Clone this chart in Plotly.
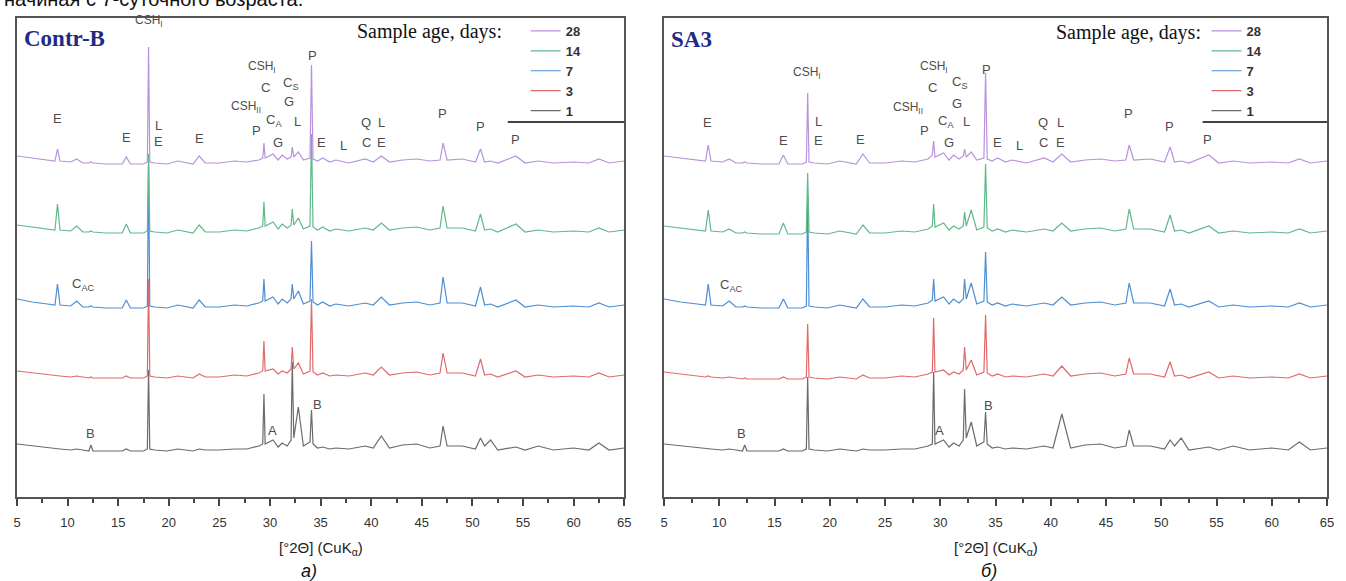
import plotly.graph_objects as go

# ---------------- data ----------------
TWO_THETA = [5.0, 6.5, 8.0, 8.75, 9.0, 9.25, 10.3, 10.9, 11.5, 12.1, 12.3, 12.5, 13.8, 15.4, 15.8,
             16.2, 17.5, 17.88, 18.0, 18.12, 18.6, 19.8, 20.9, 22.4, 23.0, 23.6, 25.0, 26.5, 27.7, 28.9,
             29.28, 29.4, 29.52, 30.3, 30.8, 31.2, 31.7, 32.08, 32.2, 32.35, 32.8, 33.3, 33.95, 34.1, 34.25,
             34.7, 35.2, 35.9, 36.5, 37.8, 39.4, 40.2, 41.0, 41.8, 43.1, 44.5, 45.8, 46.8, 47.1, 47.5,
             49.0, 50.3, 50.8, 51.2, 51.8, 52.5, 54.3, 55.2, 56.5, 58.0, 60.0, 61.5, 62.5, 63.5, 65.0]

AGES = ["28", "14", "7", "3", "1"]
X_TICKS = [5, 10, 15, 20, 25, 30, 35, 40, 45, 50, 55, 60, 65]

# Contr-B intensities (a.u.)
CONTR_B_28 = [9, 7, 5, 4, 16, 4, 3, 6, 2, 2, 3, 2, 1, 1, 8,
              1, 1, 3, 118, 3, 2, 1, 4, 1, 9, 2, 2, 4, 3, 5,
              7, 22, 7, 11, 5, 10, 6, 8, 18, 8, 13, 5, 7, 100, 6,
              4, 7, 3, 5, 2, 6, 3, 9, 3, 5, 6, 4, 5, 22, 5,
              6, 3, 16, 3, 4, 2, 9, 2, 4, 2, 3, 2, 6, 2, 4]
CONTR_B_14 = [9, 7, 5, 4, 30, 4, 3, 8, 2, 2, 3, 2, 1, 1, 10,
              1, 1, 3, 80, 3, 2, 1, 4, 1, 9, 2, 2, 4, 3, 6,
              8, 32, 8, 12, 5, 10, 6, 9, 25, 9, 16, 5, 8, 100, 7,
              4, 7, 3, 5, 3, 6, 4, 11, 4, 6, 7, 4, 6, 28, 6,
              6, 3, 20, 4, 5, 2, 10, 2, 4, 2, 3, 2, 6, 2, 4]
CONTR_B_7 = [10, 7, 5, 4, 25, 4, 3, 8, 2, 2, 3, 2, 1, 1, 9,
             1, 1, 3, 145, 3, 2, 1, 4, 1, 9, 2, 2, 4, 3, 6,
             8, 30, 8, 12, 5, 10, 6, 10, 25, 10, 18, 5, 8, 68, 7,
             4, 7, 3, 5, 3, 6, 4, 12, 4, 6, 7, 4, 6, 32, 6,
             6, 3, 22, 4, 5, 2, 9, 2, 4, 2, 3, 2, 6, 2, 4]
CONTR_B_3 = [8, 6, 4, 3, 3, 3, 2, 3, 2, 1, 2, 1, 1, 1, 3,
             1, 1, 3, 100, 3, 2, 1, 3, 1, 5, 2, 2, 4, 3, 6,
             8, 38, 8, 10, 5, 8, 6, 10, 32, 10, 16, 5, 8, 80, 7,
             4, 6, 3, 4, 3, 6, 4, 12, 4, 6, 7, 4, 6, 26, 6,
             6, 3, 20, 4, 5, 2, 8, 2, 4, 2, 3, 2, 6, 2, 4]
CONTR_B_1 = [8, 6, 4, 3, 3, 3, 2, 3, 2, 1, 7, 1, 1, 1, 3,
             1, 1, 3, 82, 3, 2, 1, 3, 1, 3, 2, 2, 3, 3, 6,
             8, 58, 8, 12, 5, 9, 6, 12, 90, 14, 45, 6, 10, 42, 8,
             4, 5, 3, 4, 3, 6, 4, 16, 4, 7, 8, 4, 6, 26, 6,
             6, 3, 14, 6, 12, 2, 5, 2, 6, 2, 4, 2, 9, 2, 4]

# SA3 intensities (a.u.)
SA3_28 = [9, 7, 5, 4, 20, 4, 3, 6, 2, 2, 3, 2, 1, 1, 10,
          1, 1, 3, 72, 3, 2, 1, 4, 1, 11, 2, 2, 4, 3, 6,
          10, 24, 8, 12, 5, 10, 6, 9, 16, 8, 13, 5, 7, 92, 6,
          4, 7, 3, 5, 2, 7, 3, 11, 3, 5, 6, 4, 5, 20, 5,
          6, 3, 18, 3, 4, 2, 10, 2, 4, 2, 3, 2, 6, 2, 4]
SA3_14 = [9, 7, 5, 4, 25, 4, 3, 6, 2, 2, 3, 2, 1, 1, 12,
          1, 1, 3, 62, 3, 2, 1, 4, 1, 10, 2, 2, 4, 3, 6,
          9, 31, 8, 12, 5, 9, 6, 9, 23, 9, 25, 5, 8, 71, 7,
          4, 6, 3, 5, 3, 6, 4, 12, 4, 6, 7, 4, 6, 26, 6,
          6, 3, 20, 4, 5, 2, 9, 2, 4, 2, 3, 2, 6, 2, 4]
SA3_7 = [10, 7, 5, 4, 25, 4, 3, 8, 2, 2, 3, 2, 1, 1, 10,
         1, 1, 3, 115, 3, 2, 1, 4, 1, 10, 2, 2, 4, 3, 6,
         9, 30, 8, 12, 5, 10, 6, 10, 30, 10, 26, 5, 8, 57, 7,
         4, 6, 3, 5, 3, 6, 4, 12, 4, 6, 7, 4, 6, 26, 6,
         6, 3, 20, 4, 5, 2, 8, 2, 4, 2, 3, 2, 6, 2, 4]
SA3_3 = [8, 6, 4, 3, 4, 3, 2, 3, 2, 1, 2, 1, 1, 1, 3,
         1, 1, 3, 56, 3, 2, 1, 3, 1, 5, 2, 2, 4, 3, 6,
         8, 62, 8, 10, 5, 8, 6, 10, 33, 10, 20, 5, 8, 65, 7,
         4, 6, 3, 4, 3, 6, 4, 14, 4, 6, 7, 4, 6, 22, 6,
         6, 3, 18, 4, 5, 2, 8, 2, 4, 2, 3, 2, 6, 2, 4]
SA3_1 = [8, 6, 4, 3, 3, 3, 2, 3, 2, 1, 7, 1, 1, 1, 3,
         1, 1, 3, 75, 3, 2, 1, 3, 1, 3, 2, 2, 3, 3, 6,
         8, 80, 8, 12, 5, 9, 6, 12, 63, 14, 30, 6, 10, 40, 8,
         4, 5, 3, 4, 3, 6, 4, 38, 4, 7, 8, 4, 6, 22, 6,
         6, 3, 12, 6, 14, 2, 5, 2, 6, 2, 4, 2, 10, 2, 4]

# ---------------- presentation ----------------
COLORS = {"28": "#b893dc", "14": "#5fb98a", "7": "#4c8fd2", "3": "#e06a6a", "1": "#6b6b6b"}
OFFSETS_LEFT = {"28": 332, "14": 263, "7": 188, "3": 118, "1": 45}
OFFSETS_RIGHT = {"28": 332, "14": 262, "7": 188, "3": 117, "1": 45}

LEFT_SERIES = {"28": CONTR_B_28, "14": CONTR_B_14, "7": CONTR_B_7, "3": CONTR_B_3, "1": CONTR_B_1}
RIGHT_SERIES = {"28": SA3_28, "14": SA3_14, "7": SA3_7, "3": SA3_3, "1": SA3_1}

fig = go.Figure()

for panel, series, offs, xa, ya, lg in [
    ("Contr-B", LEFT_SERIES, OFFSETS_LEFT, "x", "y", "legend"),
    ("SA3", RIGHT_SERIES, OFFSETS_RIGHT, "x2", "y2", "legend2"),
]:
    for age in ["1", "3", "7", "14", "28"]:
        fig.add_trace(go.Scatter(
            x=TWO_THETA,
            y=[v + offs[age] for v in series[age]],
            mode="lines", name=age, legend=lg,
            line=dict(color=COLORS[age], width=1.2),
            xaxis=xa, yaxis=ya,
            hovertemplate=panel + ", " + age + " d<br>2θ=%{x}<extra></extra>",
        ))

W, H = 1346, 581
ML, MR, MT, MB = 17, 13, 18, 84
PW = W - ML - MR
PH = H - MT - MB


def px(xpix):
    return (xpix - ML) / PW


def py(ypix):
    return (H - MB - ypix) / PH


serif = "Liberation Serif, Times New Roman, serif"
sans = "Liberation Sans, Arial, sans-serif"

LBL_FONT = dict(family=sans, size=13, color="#4d4d4d")
SMALL_FONT = dict(family=sans, size=12, color="#4d4d4d")

# (text, 2θ position, height in axis units, small font?)
LEFT_LABELS = [
    ("CSH<sub>I</sub>", 18.0, 476, 1), ("E", 9.0, 379, 0), ("E", 15.84, 360, 0),
    ("L", 19.0, 372, 0), ("E", 19.0, 356, 0), ("E", 23.0, 359, 0),
    ("CSH<sub>II</sub>", 27.66, 390, 1), ("P", 28.65, 367, 0), ("CSH<sub>I</sub>", 29.24, 430, 1),
    ("C", 29.53, 410, 0), ("C<sub>S</sub>", 32.0, 414, 0), ("G", 31.9, 396, 0),
    ("C<sub>A</sub>", 30.4, 377, 0), ("L", 32.7, 376, 0), ("G", 30.8, 355, 0),
    ("P", 34.16, 442, 0), ("E", 35.05, 355, 0), ("L", 37.3, 352, 0),
    ("Q", 39.5, 375, 0), ("C", 39.5, 355, 0), ("L", 41.06, 375, 0), ("E", 41.06, 355, 0),
    ("P", 47.0, 384, 0), ("P", 50.8, 371, 0), ("P", 54.3, 358, 0),
    ("C<sub>AC</sub>", 11.5, 213, 0), ("B", 12.3, 64, 0), ("A", 30.2, 67, 0), ("B", 34.66, 93, 0),
]
RIGHT_LABELS = [
    ("CSH<sub>I</sub>", 17.9, 424, 1), ("E", 8.97, 375, 0), ("E", 15.83, 357, 0),
    ("L", 19.0, 376, 0), ("E", 19.0, 357, 0), ("E", 22.8, 358, 0),
    ("CSH<sub>II</sub>", 27.1, 389, 1), ("P", 28.56, 367, 0), ("CSH<sub>I</sub>", 29.46, 430, 1),
    ("C", 29.28, 410, 0), ("C<sub>S</sub>", 31.7, 415, 0), ("G", 31.5, 394, 0),
    ("C<sub>A</sub>", 30.54, 376, 0), ("L", 32.35, 376, 0), ("G", 30.8, 355, 0),
    ("P", 34.15, 428, 0), ("E", 35.14, 355, 0), ("L", 37.13, 352, 0),
    ("Q", 39.3, 375, 0), ("C", 39.3, 355, 0), ("L", 40.9, 375, 0), ("E", 40.9, 355, 0),
    ("P", 47.06, 384, 0), ("P", 50.76, 371, 0), ("P", 54.19, 358, 0),
    ("C<sub>AC</sub>", 11.05, 212, 0), ("B", 12.04, 64, 0), ("A", 29.9, 67, 0), ("B", 34.4, 92, 0),
]

annotations = []
for labels, xr, yr in [(LEFT_LABELS, "x", "y"), (RIGHT_LABELS, "x2", "y2")]:
    for txt, xv, yv, small in labels:
        annotations.append(dict(text=txt, x=xv, y=yv, xref=xr, yref=yr, showarrow=False,
                                font=SMALL_FONT if small else LBL_FONT,
                                xanchor="center", yanchor="middle"))

annotations += [
    dict(text="начиная с 7-суточного возраста.", x=px(2), y=py(-1), xref="paper", yref="paper",
         xanchor="left", yanchor="middle", showarrow=False, font=dict(family=sans, size=20, color="#111")),
    dict(text="<b>Contr-B</b>", x=px(22), y=py(38), xref="paper", yref="paper",
         xanchor="left", yanchor="middle", showarrow=False, font=dict(family=serif, size=23, color="#1f2a86")),
    dict(text="<b>SA3</b>", x=px(672), y=py(40), xref="paper", yref="paper",
         xanchor="left", yanchor="middle", showarrow=False, font=dict(family=serif, size=23, color="#1f2a86")),
    dict(text="Sample age, days:", x=px(506), y=py(31), xref="paper", yref="paper",
         xanchor="right", yanchor="middle", showarrow=False, font=dict(family=serif, size=20, color="#111")),
    dict(text="Sample age, days:", x=px(1208), y=py(33), xref="paper", yref="paper",
         xanchor="right", yanchor="middle", showarrow=False, font=dict(family=serif, size=20, color="#111")),
    dict(text="[°2Θ] (CuK<sub>α</sub>)", x=px(322), y=py(548), xref="paper", yref="paper",
         xanchor="center", yanchor="middle", showarrow=False, font=dict(family=sans, size=15, color="#222")),
    dict(text="[°2Θ] (CuK<sub>α</sub>)", x=px(1000), y=py(548), xref="paper", yref="paper",
         xanchor="center", yanchor="middle", showarrow=False, font=dict(family=sans, size=15, color="#222")),
    dict(text="<i>а)</i>", x=px(310), y=py(571), xref="paper", yref="paper",
         xanchor="center", yanchor="middle", showarrow=False, font=dict(family=sans, size=18, color="#111")),
    dict(text="<i>б)</i>", x=px(993), y=py(571), xref="paper", yref="paper",
         xanchor="center", yanchor="middle", showarrow=False, font=dict(family=sans, size=18, color="#111")),
]

shapes = [
    dict(type="line", xref="paper", yref="paper", x0=px(510), x1=px(627), y0=py(122), y1=py(122),
         line=dict(color="#444", width=2)),
    dict(type="line", xref="paper", yref="paper", x0=px(1208), x1=px(1333), y0=py(122), y1=py(122),
         line=dict(color="#444", width=2)),
]

xcommon = dict(range=[5, 65], tickmode="array", tickvals=X_TICKS, ticks="outside", ticklen=7,
               tickwidth=1.5, tickcolor="#444", showline=True, linewidth=2, linecolor="#555",
               mirror=True, showgrid=False, zeroline=False, ticklabelstandoff=5,
               tickfont=dict(family=sans, size=13, color="#333"),
               minor=dict(dtick=2.5, tick0=2.5, ticks="outside", ticklen=4, tickcolor="#444", showgrid=False))
ycommon = dict(range=[0, PH], showticklabels=False, ticks="", showline=True, linewidth=2,
               linecolor="#555", mirror=True, showgrid=False, zeroline=False)

legend_common = dict(bgcolor="rgba(0,0,0,0)", borderwidth=0, traceorder="reversed",
                     font=dict(family=sans, size=13, color="#333", weight="bold"),
                     xanchor="left", yanchor="top", itemwidth=30, tracegroupgap=0)

fig.update_layout(
    width=W, height=H,
    margin=dict(l=ML, r=MR, t=MT, b=MB),
    paper_bgcolor="white", plot_bgcolor="white",
    showlegend=True,
    xaxis=dict(domain=[0, px(627)], anchor="y", **xcommon),
    yaxis=dict(domain=[0, 1], anchor="x", **ycommon),
    xaxis2=dict(domain=[px(667), 1], anchor="y2", **xcommon),
    yaxis2=dict(domain=[0, 1], anchor="x2", **ycommon),
    legend=dict(x=px(528), y=py(16), **legend_common),
    legend2=dict(x=px(1212), y=py(16), **legend_common),
    annotations=annotations,
    shapes=shapes,
)

fig.write_html("out.html")
